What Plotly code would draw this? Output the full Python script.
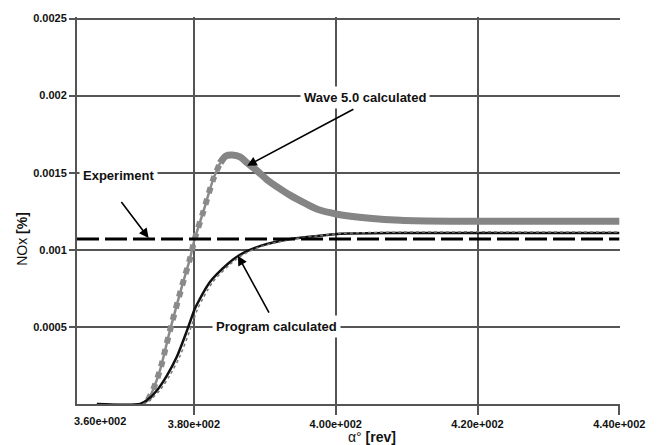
import plotly.graph_objects as go

# ---- data ----
wave_x = [366.3, 372.8, 373.5, 374.2, 375.2, 376.6, 378.3, 379.4, 380.1, 381.3, 382.7, 383.7,
          384.5, 385.4, 386.5, 387.5, 388.9, 390.3, 392.1, 393.6, 395.7, 397.4, 400.2, 404.8,
          409.1, 416.1, 440.0]
wave_y = [0.0, 0.0, 0.0000256, 0.0000897, 0.000218, 0.000474, 0.000763, 0.000936, 0.00107,
          0.001244, 0.001455, 0.001564, 0.001609, 0.001615, 0.001603, 0.001564, 0.001513,
          0.001455, 0.001397, 0.001353, 0.001301, 0.001263, 0.001231, 0.001205, 0.001192,
          0.001186, 0.001186]

prog_x = [366.3, 372.4, 373.4, 374.8, 376.2, 377.6, 379.0, 380.1, 380.8, 381.5, 382.2, 383.2,
          384.8, 386.5, 388.6, 390.3, 393.6, 397.4, 400.2, 409.1, 440.0]
prog_y = [0.0, 0.0, 0.0000256, 0.0000897, 0.000186, 0.000308, 0.000474, 0.000615, 0.000679,
          0.000737, 0.000788, 0.00084, 0.00091, 0.000968, 0.001013, 0.001038, 0.00107, 0.00109,
          0.001103, 0.001109, 0.001109]

prog2_x = [372.8, 373.8, 375.2, 376.6, 378.0, 379.4, 380.5, 381.2, 381.9, 382.6, 383.6, 385.2,
           386.9, 389.0, 390.7, 394.0, 397.8, 400.6, 409.5, 440.0]
prog2_y = [0.0, 0.0000256, 0.0000897, 0.000186, 0.000308, 0.000474, 0.000615, 0.000679,
           0.000737, 0.000788, 0.00084, 0.00091, 0.000968, 0.001013, 0.001038, 0.00107,
           0.001092, 0.001106, 0.001115, 0.001115]

exp_x = [363.5, 440.0]
exp_y = [0.00107, 0.00107]

x_tickvals = [380, 400, 420, 440]
x_ticktext = ["3.80e+002", "4.00e+002", "4.20e+002", "4.40e+002"]
first_x_label = "3.60e+002"
y_tickvals = [0.0005, 0.001, 0.0015, 0.002, 0.0025]
y_ticktext = ["0.0005", "0.001", "0.0015", "0.002", "0.0025"]

rise_end = 12  # index where the square-marker part of the Wave curve ends

FONT = "Liberation Sans, Arial, sans-serif"

fig = go.Figure()

# Wave 5.0 calculated: smooth thick part
fig.add_trace(go.Scatter(x=wave_x[rise_end - 1:], y=wave_y[rise_end - 1:], mode="lines",
                         line=dict(color="#858585", width=7, shape="spline", smoothing=0.8),
                         showlegend=False, hoverinfo="skip"))
# rising part: thin line + square "dots"
fig.add_trace(go.Scatter(x=wave_x[:rise_end], y=wave_y[:rise_end], mode="lines",
                         line=dict(color="#8a8a8a", width=2.5, shape="spline", smoothing=0.8),
                         showlegend=False, hoverinfo="skip"))
fig.add_trace(go.Scatter(x=wave_x[2:rise_end], y=wave_y[2:rise_end], mode="lines",
                         line=dict(color="#8a8a8a", width=6, dash="dot", shape="spline", smoothing=0.8),
                         showlegend=False, hoverinfo="skip"))

# Program calculated
fig.add_trace(go.Scatter(x=prog_x, y=prog_y, mode="lines",
                         line=dict(color="#111111", width=2.5, shape="spline", smoothing=0.8),
                         showlegend=False, hoverinfo="skip"))
fig.add_trace(go.Scatter(x=prog2_x, y=prog2_y, mode="lines",
                         line=dict(color="#777777", width=1.5, dash="dot", shape="spline", smoothing=0.8),
                         showlegend=False, hoverinfo="skip"))

# Experiment
fig.add_trace(go.Scatter(x=exp_x, y=exp_y, mode="lines",
                         line=dict(color="#000000", width=3, dash="22px,6px"),
                         showlegend=False, hoverinfo="skip"))

label_font = dict(family=FONT, size=13, color="#111111")

annotations = [
    dict(x=404.1, y=0.001987, xref="x", yref="y", text="<b>Wave 5.0 calculated</b>",
         showarrow=False, bgcolor="white", font=label_font, borderpad=3),
    dict(x=369.4, y=0.00148, xref="x", yref="y", text="<b>Experiment</b>",
         showarrow=False, bgcolor="white", font=label_font, borderpad=3),
    dict(x=391.7, y=0.000500, xref="x", yref="y", text="<b>Program calculated</b>",
         showarrow=False, bgcolor="white", font=label_font, borderpad=3),
    # arrows
    dict(x=387.5, y=0.001545, ax=402.7, ay=0.001917, xref="x", yref="y", axref="x", ayref="y",
         text="", showarrow=True, arrowhead=2, arrowsize=1.2, arrowwidth=1.6, arrowcolor="#000"),
    dict(x=373.6, y=0.001077, ax=369.6, ay=0.00132, xref="x", yref="y", axref="x", ayref="y",
         text="", showarrow=True, arrowhead=2, arrowsize=1.2, arrowwidth=1.6, arrowcolor="#000"),
    dict(x=386.2, y=0.000962, ax=390.7, ay=0.000583, xref="x", yref="y", axref="x", ayref="y",
         text="", showarrow=True, arrowhead=2, arrowsize=1.2, arrowwidth=1.6, arrowcolor="#000"),
    # first x tick label
    dict(x=366.7, y=0, xref="x", yref="paper", yanchor="top", yshift=-9,
         text="<b>" + first_x_label + "</b>", showarrow=False,
         font=dict(family=FONT, size=11, color="#111")),
    # axis titles
    dict(x=360 / 662, y=0, xref="paper", yref="paper", xanchor="center", yanchor="middle",
         yshift=-33, text="α° <b>[rev]</b>", showarrow=False,
         font=dict(family=FONT, size=14, color="#111")),
    dict(x=0, y=(404 - 238) / 389, xref="paper", yref="paper", xanchor="center", yanchor="middle",
         xshift=-55, text="NOx <b>[%]</b>", textangle=-90, showarrow=False,
         font=dict(family=FONT, size=14, color="#111")),
]

fig.update_layout(
    width=662, height=445,
    margin=dict(l=77, r=42, t=15, b=41),
    paper_bgcolor="white", plot_bgcolor="white",
    annotations=annotations,
    showlegend=False,
)
fig.update_xaxes(range=[363.5, 440.1], tickvals=x_tickvals, ticktext=["<b>%s</b>" % t for t in x_ticktext],
                 showgrid=True, gridcolor="#555555", gridwidth=1.5,
                 showline=True, linecolor="#555555", linewidth=2,
                 ticks="outside", ticklen=9, tickcolor="#555555", tickwidth=1.5,
                 tickfont=dict(family=FONT, size=11, color="#111"), zeroline=False)
fig.update_yaxes(range=[0, 0.00251], tickvals=y_tickvals, ticktext=["<b>%s</b>" % t for t in y_ticktext],
                 showgrid=True, gridcolor="#555555", gridwidth=1.5,
                 showline=True, linecolor="#555555", linewidth=2,
                 ticks="outside", ticklen=6, tickcolor="#555555", tickwidth=1.5,
                 tickfont=dict(family=FONT, size=11, color="#111"), zeroline=False)

fig.write_html("out.html", config={"displayModeBar": False},
               post_script="document.body.style.margin='0';")
